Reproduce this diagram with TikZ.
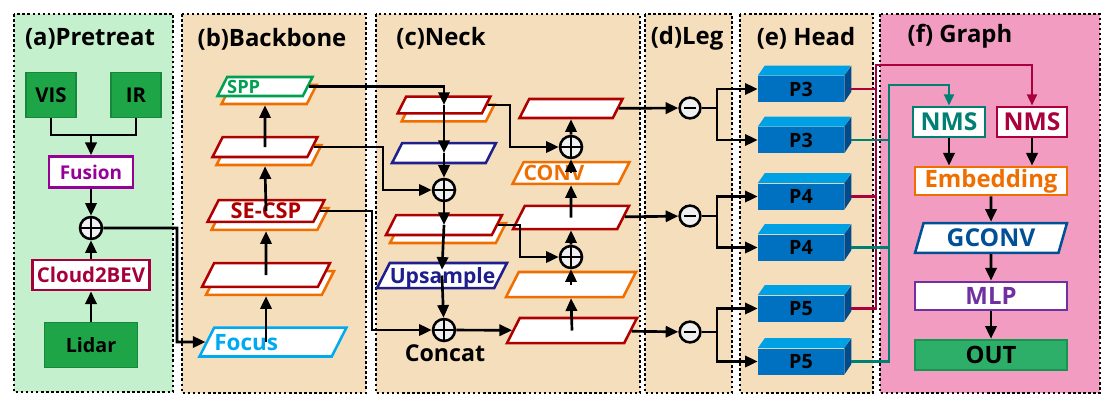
\documentclass[tikz,border=0pt]{standalone}
\usepackage{fontspec}
\setmainfont{Open Sans}
\usepackage{tikz}
\usetikzlibrary{arrows.meta,shapes.geometric,shadows}
\definecolor{PreGreen}{RGB}{197,240,206}
\definecolor{PanelBeige}{RGB}{245,222,188}
\definecolor{GraphPink}{RGB}{242,156,193}
\definecolor{InputGreen}{RGB}{30,165,72}
\definecolor{InputEdge}{RGB}{22,135,60}
\definecolor{FusePurple}{RGB}{150,0,150}
\definecolor{BevRed}{RGB}{165,0,60}
\definecolor{CspRed}{RGB}{175,0,0}
\definecolor{CspOrange}{RGB}{240,110,0}
\definecolor{FocusBlue}{RGB}{0,170,240}
\definecolor{SppGreen}{RGB}{0,160,80}
\definecolor{UpNavy}{RGB}{30,30,140}
\definecolor{HeadFront}{RGB}{0,112,192}
\definecolor{HeadTop}{RGB}{0,160,228}
\definecolor{HeadSide}{RGB}{0,75,140}
\definecolor{NmsTeal}{RGB}{0,128,115}
\definecolor{NmsRed}{RGB}{170,0,60}
\definecolor{GconvBlue}{RGB}{0,80,150}
\definecolor{MlpPurple}{RGB}{112,48,160}
\definecolor{OutGreen}{RGB}{45,175,105}
\definecolor{OutEdge}{RGB}{20,150,80}
\definecolor{SumGray}{RGB}{240,240,240}
\newcommand{\bsz}[1]{\fontsize{#1}{#1}\selectfont\bfseries}

\begin{document}
\begin{tikzpicture}[
  x=0.025cm, y=-0.025cm,
  panel/.style={draw=black, line width=2pt, dash pattern=on 1.8pt off 1.8pt},
  title/.style={font=\bsz{17pt}},
  inbox/.style={draw=InputEdge, line width=1.2pt, fill=InputGreen, font=\bsz{14.5pt}, inner sep=0pt},
  tag/.style={draw=#1, text=#1, line width=2pt, fill=white, inner sep=0pt},
  para/.style={trapezium, trapezium left angle=63, trapezium right angle=117,
    draw=#1, text=#1, line width=1.8pt, fill=white, inner sep=0pt, align=center},
  paradim/.style n args={3}{text width=#1, text height=#2, text depth=#3},
  doubled/.style={copy shadow={shadow xshift=0.1cm, shadow yshift=-0.2cm, draw=CspOrange, fill=white, line width=1.8pt}},
  sumnode/.style={circle, draw, line width=1.8pt, fill=SumGray, minimum size=0.55cm, inner sep=0pt,
    path picture={\draw[line width=1.8pt] (path picture bounding box.north) -- (path picture bounding box.south)
      (path picture bounding box.west) -- (path picture bounding box.east);}},
  subnode/.style={circle, draw, line width=1.8pt, fill=SumGray, minimum size=0.52cm, inner sep=0pt,
    path picture={\draw[line width=1.8pt] ([xshift=-0.16cm]path picture bounding box.center) -- ([xshift=0.16cm]path picture bounding box.center);}},
  arrow/.style={-{Triangle[length=9pt,width=8pt]}, line width=1.9pt},
  link/.style={line width=1.9pt},
  headbox/.style={fill=HeadFront, minimum width=2.15cm, minimum height=0.65cm, inner sep=0pt, font=\bsz{14pt}},
  redlink/.style={draw=NmsRed, line width=1.7pt},
  teallink/.style={draw=NmsTeal, line width=1.7pt},
  redarrow/.style={redlink, -{Triangle[length=8pt,width=7pt]}},
  tealarrow/.style={teallink, -{Triangle[length=8pt,width=7pt]}}
]
\useasboundingbox (0,0) rectangle (1108,402);

% panels
\draw[panel, fill=PreGreen] (14,14) rectangle (173,392);
\draw[panel, fill=PanelBeige] (182,14) rectangle (366,393);
\draw[panel, fill=PanelBeige] (376,14) rectangle (640,393);
\draw[panel, fill=PanelBeige] (645,14) rectangle (732,393);
\draw[panel, fill=PanelBeige] (740,14) rectangle (873,393);
\draw[panel, fill=GraphPink] (880,14) rectangle (1100,393);

\node[title] (tPre) at (90,39) {(a)Pretreat};
\node[title] (tBack) at (272,39) {(b)Backbone};
\node[title] (tNeck) at (441,38) {(c)Neck};
\node[title] (tLeg) at (687,38) {(d)Leg};
\node[title] (tHead) at (806,38) {(e) Head};
\node[title] (tGraph) at (960,36) {(f) Graph};

% (a) pretreat
\node[inbox, minimum width=1.25cm, minimum height=1.125cm] (vis) at (51,95) {VIS};
\node[inbox, minimum width=1.25cm, minimum height=1.125cm] (ir) at (136,95) {IR};
\node[tag=FusePurple, minimum width=2.1cm, minimum height=0.775cm, font=\bsz{13.5pt}] (fusion) at (91,172) {Fusion};
\node[sumnode] (addA) at (91,228) {};
\node[tag=BevRed, minimum width=2.925cm, minimum height=0.75cm, font=\bsz{14.5pt}] (cloud) at (91,275) {Cloud2BEV};
\node[inbox, minimum width=2.325cm, minimum height=1.125cm, font=\bsz{14pt}] (lidar) at (91,345) {Lidar};
\coordinate (fuseIn) at (91,135);

% (b) backbone
\node[para=FocusBlue, paradim={2.935cm}{16pt}{4.6pt}, align=left, font=\bsz{16pt}] (focus) at (273,342) {Focus};
\node[para=CspRed, doubled, paradim={2.59cm}{8.5pt}{8.5pt}] (bbA) at (266,275) {};
\node[para=CspRed, doubled, paradim={2.365cm}{13.4pt}{2.2pt}, font=\bsz{15.5pt}] (secsp) at (266,211) {SE-CSP};
\node[para=CspRed, doubled, paradim={2.115cm}{7.1pt}{7.1pt}] (bbB) at (265,147) {};
\node[para=SppGreen, doubled, paradim={1.89cm}{11.4pt}{2.1pt}, align=left, font=\bsz{13pt}] (spp) at (265,86.5) {SPP};

% (c) neck
\node[para=CspRed, doubled, paradim={1.89cm}{6pt}{6pt}] (nkA) at (444,105) {};
\node[para=UpNavy, paradim={2.09cm}{7.1pt}{7.1pt}] (nkB) at (444,153) {};
\node[sumnode] (addB) at (444,190) {};
\node[para=CspRed, doubled, paradim={2.39cm}{7.1pt}{7.1pt}] (nkC) at (444,225) {};
\node[para=UpNavy, paradim={2.61cm}{14.3pt}{3.5pt}, font=\bsz{15pt}] (upsample) at (442,275.5) {Upsample};
\node[sumnode] (addE) at (444,330) {};
\node[font=\bsz{16.5pt}] (concat) at (445,353) {Concat};

\node[para=CspRed, paradim={2.61cm}{8.9pt}{8.9pt}] (nkD) at (572,330.5) {};
\node[para=CspOrange, paradim={2.61cm}{8.9pt}{8.9pt}] (nkE) at (571,284.5) {};
\node[sumnode] (addD) at (571,257) {};
\node[para=CspRed, paradim={2.31cm}{8.2pt}{8.2pt}] (nkF) at (571,217.5) {};
\node[para=CspOrange, paradim={2.365cm}{13.2pt}{2.4pt}, align=left, font=\bsz{15pt}] (conv) at (571,173) {CONV};
\node[sumnode] (addC) at (571,147) {};
\node[para=CspRed, paradim={2.09cm}{6.75pt}{6.75pt}] (nkG) at (571,108.5) {};

% (d) leg
\node[subnode] (legA) at (690,108) {};
\node[subnode] (legB) at (690,216) {};
\node[subnode] (legC) at (690,332) {};

% (e) head
\foreach \nm/\yy/\lb in {p3a/89/P3, p3b/140/P3, p4a/196.5/P4, p4b/247.5/P4, p5a/308.5/P5, p5b/361.5/P5}{
  \node[headbox] (\nm) at (801,\yy) {\lb};
  \fill[HeadTop] (\nm.north west) -- ++(7,-10) -- ++(86,0) -- (\nm.north east) -- cycle;
  \fill[HeadSide] (\nm.north east) -- ++(7,-10) -- ++(0,26) -- (\nm.south east) -- cycle;
}

% (f) graph
\node[tag=NmsTeal, minimum width=1.8cm, minimum height=0.75cm, font=\bsz{17.5pt}] (nmsT) at (949,122) {NMS};
\node[tag=NmsRed, minimum width=1.75cm, minimum height=0.75cm, font=\bsz{17.5pt}] (nmsR) at (1032,122) {NMS};
\node[tag=CspOrange, minimum width=3.8cm, minimum height=0.7cm, font=\bsz{17pt}] (embed) at (991,181) {Embedding};
\node[para=GconvBlue, trapezium left angle=74, trapezium right angle=106, paradim={3.37cm}{16.9pt}{4.4pt}, font=\bsz{17.5pt}] (gconv) at (991,238) {GCONV};
\node[tag=MlpPurple, minimum width=3.8cm, minimum height=0.7cm, font=\bsz{17pt}] (mlp) at (991,296) {MLP};
\node[draw=OutEdge, line width=1.8pt, fill=OutGreen, minimum width=3.8cm, minimum height=0.75cm, inner sep=0pt, font=\bsz{17pt}] (out) at (991,355) {OUT};

% connectors (a)
\draw[link] (vis.south) |- (fuseIn) -| (ir.south);
\draw[arrow] (fuseIn) -- (fusion);
\draw[arrow] (fusion) -- (addA);
\draw[arrow] (lidar) -- (cloud);
\draw[arrow] (cloud) -- (addA);
\draw[arrow] (addA) -| (177,342) -- (focus);

% connectors (b)
\draw[arrow] (focus.center -| bbA.south) -- ([yshift=-0.2cm]bbA.south);
\draw[arrow] (bbA.center) -- ([yshift=-0.2cm]secsp.south);
\draw[arrow] (secsp.center) -- ([yshift=-0.2cm]bbB.south);
\draw[arrow] (bbB.center) -- ([yshift=-0.2cm]spp.south);

% connectors (c)
\draw[arrow] (spp.east) -| (nkA.center);
\draw[arrow] (bbB.east) -| (383,190) -- (addB);
\draw[arrow] (secsp.east) -| (372,330) -- (addE);
\draw[arrow] (nkA.center) -- (nkB.center);
\draw[arrow] (nkB.center) -- (addB);
\draw[arrow] (addB) -- (nkC.center);
\draw[arrow] (nkC.center) -- ([yshift=-0.2cm]upsample.north);
\draw[arrow] (upsample.center) -- (addE);
\draw[arrow] (nkA.east) -| (510,147) -- (addC);
\draw[arrow] (nkC.east) -| (520,257) -- (addD);
\draw[arrow] (addE) -- (nkD);
\draw[arrow] (nkD.center) -- (nkE.south);
\draw[arrow] (nkE.center) -- (addD);
\draw[arrow] (addD) -- (nkF.south);
\draw[arrow] (nkF.center) -- (conv.south);
\draw[arrow] (conv.center) -- (addC);
\draw[arrow] (addC) -- (nkG.south);

% connectors (d)
\draw[arrow] (nkG) -- (legA);
\draw[arrow] (nkF) -- (legB);
\draw[arrow] (nkD) -- (legC);
\foreach \lg/\up/\dn in {legA/p3a/p3b, legB/p4a/p4b, legC/p5a/p5b}{
  \draw[arrow] (\lg) -- ++(27,0) |- (\up);
  \draw[arrow] (\lg) -- ++(27,0) |- (\dn);
}

% connectors (e) -> (f)
\draw[redlink] ([xshift=0.175cm]p3a.east) -- ++(25,0);
\draw[redlink] ([xshift=0.175cm]p4a.east) -- ++(25,0);
\draw[redarrow] ([xshift=0.175cm]p5a.east) -| (876,65) -| (nmsR.north);
\draw[teallink] ([xshift=0.175cm]p3b.east) -- ++(38,0);
\draw[teallink] ([xshift=0.175cm]p4b.east) -- ++(38,0);
\draw[tealarrow] ([xshift=0.175cm]p5b.east) -| (889,85) -| (nmsT.north);

% connectors (f)
\draw[arrow] (nmsT) -- (nmsT |- embed.north);
\draw[arrow] (nmsR) -- (nmsR |- embed.north);
\draw[arrow] (embed) -- (gconv);
\draw[arrow] (gconv) -- (mlp);
\draw[arrow] (mlp) -- (out);
\end{tikzpicture}
\end{document}
